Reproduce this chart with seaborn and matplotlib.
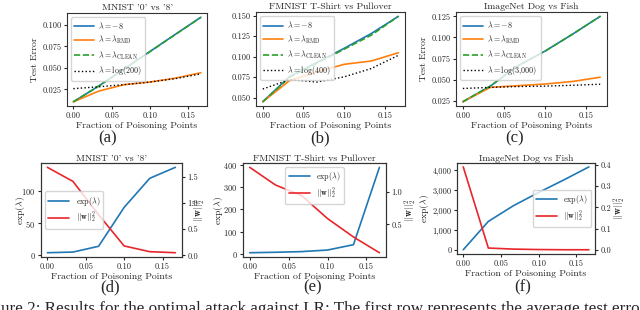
import numpy as np
import pandas as pd
import matplotlib
matplotlib.use("Agg")
import matplotlib.pyplot as plt
import matplotlib.ticker as mticker
import seaborn as sns

# fraction of poisoning points (shared x axis)
frac = [0.0, 0.0333, 0.0667, 0.1, 0.1333, 0.1667]

# top row: test error
mnist_inf = [0.0105, 0.029, 0.049, 0.069, 0.089, 0.109]
mnist_rmd = [0.0105, 0.023, 0.0305, 0.0335, 0.038, 0.0443]
mnist_clean = [0.0105, 0.0288, 0.0488, 0.0688, 0.0888, 0.1088]
mnist_fix = [0.0258, 0.028, 0.0305, 0.0335, 0.0375, 0.043]

fmnist_inf = [0.045, 0.076, 0.093, 0.110, 0.128, 0.149]
fmnist_rmd = [0.045, 0.071, 0.0813, 0.0906, 0.0946, 0.1047]
fmnist_clean = [0.045, 0.075, 0.092, 0.109, 0.126, 0.149]
fmnist_fix = [0.0605, 0.072, 0.069, 0.0753, 0.0854, 0.1015]

imnet_inf = [0.024, 0.0425, 0.0665, 0.084, 0.104, 0.125]
imnet_rmd = [0.024, 0.041, 0.043, 0.045, 0.048, 0.053]
imnet_clean = [0.024, 0.0425, 0.0665, 0.084, 0.104, 0.125]
imnet_fix = [0.0397, 0.041, 0.042, 0.0425, 0.0435, 0.0447]

# bottom row: exp(lambda) and ||w||^2
mnist_exp = [4, 5, 14, 74.5, 119.6, 136.7]
mnist_w = [1.69, 1.42, 0.78, 0.18, 0.07, 0.05]
fmnist_exp = [5, 7, 10, 17, 41, 388]
fmnist_w = [1.37, 1.10, 0.94, 0.59, 0.31, 0.07]
imnet_exp = [0, 1430, 2225, 2890, 3520, 4180]
imnet_w = [0.39, 0.01, 0.005, 0.003, 0.002, 0.002]

titles = ["MNIST '0' vs '8'", "FMNIST T-Shirt vs Pullover", "ImageNet Dog vs Fish"]
fix_labels = [r"$\lambda = \log(200)$", r"$\lambda = \log(400)$", r"$\lambda = \log(3{,}000)$"]
captions = ["(a)", "(b)", "(c)", "(d)", "(e)", "(f)"]

sns.set_style("ticks")
plt.rcParams["font.family"] = ["cmr10", "DejaVu Serif"]
plt.rcParams["mathtext.fontset"] = "cm"
plt.rcParams["axes.formatter.use_mathtext"] = True
plt.rcParams["axes.unicode_minus"] = False
plt.rcParams["font.size"] = 7
plt.rcParams["xtick.labelsize"] = 6
plt.rcParams["ytick.labelsize"] = 6
plt.rcParams["axes.edgecolor"] = "#333333"
plt.rcParams["axes.linewidth"] = 0.8
plt.rcParams["axes.labelpad"] = 1.5

fig = plt.figure(figsize=(6.4, 3.1), dpi=100)

top_pos = [[0.1047, 0.658, 0.219, 0.300],
           [0.400, 0.658, 0.233, 0.303],
           [0.7125, 0.658, 0.236, 0.303]]
bot_pos = [[0.064, 0.171, 0.220, 0.303],
           [0.380, 0.171, 0.223, 0.303],
           [0.714, 0.181, 0.216, 0.294]]

top_data = [(mnist_inf, mnist_rmd, mnist_clean, mnist_fix),
            (fmnist_inf, fmnist_rmd, fmnist_clean, fmnist_fix),
            (imnet_inf, imnet_rmd, imnet_clean, imnet_fix)]

for i, (pos, (inf, rmd, clean, fix)) in enumerate(zip(top_pos, top_data)):
    ax = fig.add_axes(pos)
    sns.lineplot(x=frac, y=inf, ax=ax, color="tab:blue", lw=1.2, label=r"$\lambda = -8$")
    sns.lineplot(x=frac, y=rmd, ax=ax, color="tab:orange", lw=1.2,
                 label=r"$\lambda = \lambda_{\mathrm{RMD}}$")
    sns.lineplot(x=frac, y=clean, ax=ax, color="tab:green", lw=1.2, linestyle="--",
                 label=r"$\lambda = \lambda_{\mathrm{CLEAN}}$")
    sns.lineplot(x=frac, y=fix, ax=ax, color="black", lw=1.0, linestyle=":",
                 label=fix_labels[i])
    ax.set_title(titles[i], fontsize=7, pad=2)
    ax.set_xlabel("Fraction of Poisoning Points", labelpad=1)
    if i != 1:
        ax.set_ylabel("Test Error", labelpad=2)
    ax.set_xticks([0, 0.05, 0.1, 0.15])
    ax.xaxis.set_major_formatter(mticker.FormatStrFormatter("%.2f"))
    ax.yaxis.set_major_locator(mticker.MultipleLocator(0.025))
    ax.yaxis.set_major_formatter(mticker.FormatStrFormatter("%.3f"))
    ax.legend(loc="upper left", fontsize=5.8, handlelength=2.4, labelspacing=0.35,
              borderpad=0.4, handletextpad=0.6)
    ax.tick_params(length=2.5, pad=1.5)

bot_data = [(mnist_exp, mnist_w), (fmnist_exp, fmnist_w), (imnet_exp, imnet_w)]
leg_locs = ["center left", "upper center", "center right"]
left_lab_x = [-0.10, -0.125, -0.185]
right_lab_x = [1.07, 1.12, 1.12]

for i, (pos, (ev, wv)) in enumerate(zip(bot_pos, bot_data)):
    ax = fig.add_axes(pos)
    sns.lineplot(x=frac, y=ev, ax=ax, color="tab:blue", lw=1.2, label=r"$\exp(\lambda)$", legend=False)
    ax2 = ax.twinx()
    sns.lineplot(x=frac, y=wv, ax=ax2, color="#e8262b", lw=1.2,
                 label=r"$||\mathbf{w}||_2^2$", legend=False)
    ax.set_title(titles[i], fontsize=7, pad=1.5)
    ax.set_xlabel("Fraction of Poisoning Points", labelpad=1)
    ax.set_ylabel(r"$\exp(\lambda)$")
    ax.yaxis.set_label_coords(left_lab_x[i], 0.5)
    ax2.set_ylabel(r"$||\mathbf{w}||_2^2$")
    ax2.yaxis.set_label_coords(right_lab_x[i], 0.5)
    ax.set_xticks([0, 0.05, 0.1, 0.15])
    ax.xaxis.set_major_formatter(mticker.FormatStrFormatter("%.2f"))
    if i == 2:
        ax.yaxis.set_major_locator(mticker.MultipleLocator(1000))
        ax.yaxis.set_major_formatter(mticker.StrMethodFormatter("{x:,.0f}"))
        ax2.yaxis.set_major_locator(mticker.MultipleLocator(0.1))
    elif i == 0:
        ax.yaxis.set_major_locator(mticker.MultipleLocator(50))
        ax2.yaxis.set_major_locator(mticker.MultipleLocator(0.5))
    else:
        ax.yaxis.set_major_locator(mticker.MultipleLocator(100))
        ax2.yaxis.set_major_locator(mticker.MultipleLocator(0.5))
    ax2.yaxis.set_major_formatter(mticker.FormatStrFormatter("%.1f"))
    h1, l1 = ax.get_legend_handles_labels()
    h2, l2 = ax2.get_legend_handles_labels()
    ax2.legend(h1 + h2, l1 + l2, loc=leg_locs[i], fontsize=5.8, handlelength=2.6,
               labelspacing=0.35, borderpad=0.4)
    ax.tick_params(length=2.5, pad=1.5)
    ax2.tick_params(length=2.5, pad=1.5)

cap_x = [108 / 640, 320 / 640, 515 / 640, 110 / 640, 313 / 640, 523 / 640]
cap_y = [1 - 138 / 310] * 3 + [1 - 287 / 310] * 3
for c, x, y in zip(captions, cap_x, cap_y):
    fig.text(x, y, c, ha="center", va="center", fontsize=12, family="Liberation Serif")

fig.text(-0.035, -0.011, "Figure 2: Results for the optimal attack against LR: The first row "
         "represents the average test error", ha="left", va="baseline",
         fontsize=12.3, family="Liberation Serif")

fig.savefig("out.png", dpi=100)
